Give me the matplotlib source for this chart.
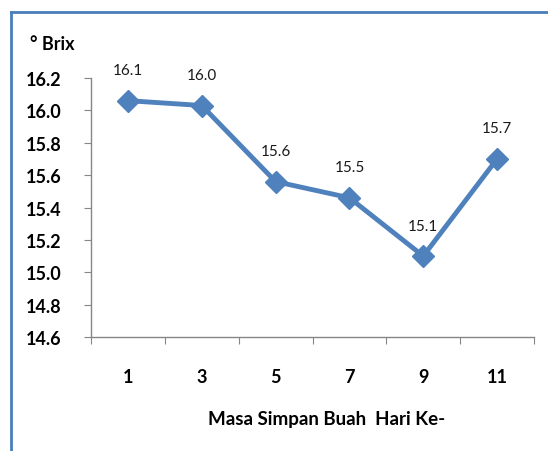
import matplotlib.pyplot as plt
from matplotlib.lines import Line2D
import numpy as np

hari = ['1', '3', '5', '7', '9', '11']
brix = [16.06, 16.03, 15.56, 15.46, 15.10, 15.70]
label_brix = ['16.1', '16.0', '15.6', '15.5', '15.1', '15.7']

plt.rcParams['font.family'] = ['Lato', 'DejaVu Sans']

fig = plt.figure(figsize=(5.48, 4.52), dpi=100)
ax = fig.add_axes([91/548, 1-338/452, (534-91)/548, (338-79)/452])

x = np.arange(len(hari))
ax.plot(x, brix, color='#4F81BD', lw=3.5, marker='D', ms=11, mec='#4F81BD', mfc='#4F81BD')

for xi, yi, t in zip(x, brix, label_brix):
    ax.annotate(t, (xi, yi), xytext=(0, 22), textcoords='offset points',
                ha='center', va='center', fontsize=11, color='#1a1a1a')

ax.set_xlim(-0.5, len(hari) - 0.5)
ax.set_ylim(14.6, 16.2)
ax.set_yticks(np.arange(14.6, 16.21, 0.2))
ax.set_yticklabels(['%.1f' % v for v in np.arange(14.6, 16.21, 0.2)], fontsize=13, fontweight='bold')

ax.set_xticks(np.arange(-0.5, len(hari), 1.0))
ax.set_xticklabels([])
ax.set_xticks(x, minor=True)
ax.set_xticklabels(hari, minor=True, fontsize=13, fontweight='bold')
ax.tick_params(axis='x', which='minor', length=0, pad=22)
ax.tick_params(axis='x', which='major', length=5, color='#868686', direction='out')
ax.tick_params(axis='y', length=5, color='#868686', pad=16)

for s in ['top', 'right']:
    ax.spines[s].set_visible(False)
for s in ['left', 'bottom']:
    ax.spines[s].set_color('#868686')
    ax.spines[s].set_linewidth(1)

fig.text(30/548, 1-45/452, '° Brix', fontsize=13, fontweight='bold', va='center', ha='left')
fig.text(327/548, 1-420/452, 'Masa Simpan Buah  Hari Ke-', fontsize=13.5, fontweight='bold',
         va='center', ha='center')

# blue frame
fig.add_artist(Line2D([11/548, 11/548], [0, 1-13/452], color='#4A7EBB', lw=2, transform=fig.transFigure))
fig.add_artist(Line2D([11/548, 1], [1-13/452, 1-13/452], color='#4A7EBB', lw=2, transform=fig.transFigure))

fig.savefig('out.png', dpi=100)
